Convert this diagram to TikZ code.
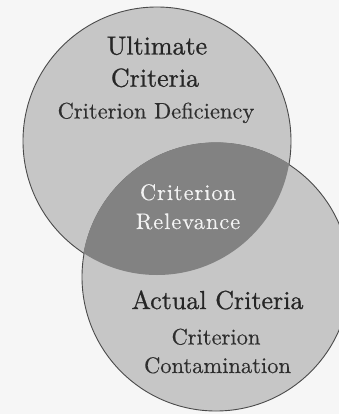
\documentclass[tikz,border=0pt]{standalone}
\usepackage{fontspec}
\newfontfamily\lmbody{lmroman10-regular.otf}[FakeBold=0.3]
\newfontfamily\lmhead{lmroman10-regular.otf}[FakeBold=0.8]
\newfontfamily\lmlens{lmroman10-regular.otf}[LetterSpace=4,FakeBold=0.3]
\begin{document}
\begin{tikzpicture}[x=1pt,y=-1pt,
  bg/.style={fill=bgcol},
  circ/.style={fill=circcol,draw=edgecol,line width=0.9pt},
  lens/.style={fill=lenscol},
  head/.style={anchor=base,inner sep=0pt,text=headcol,font=\lmhead\fontsize{26}{30}\selectfont},
  body/.style={anchor=base,inner sep=0pt,text=bodycol,font=\lmbody\fontsize{22.5}{26}\selectfont},
  lenstext/.style={anchor=base,inner sep=0pt,text=lenstextcol,font=\lmlens\fontsize{22.5}{26}\selectfont}]
\definecolor{bgcol}{HTML}{F6F6F6}
\definecolor{circcol}{HTML}{C6C6C6}
\definecolor{lenscol}{HTML}{828282}
\definecolor{edgecol}{HTML}{4A4A4A}
\definecolor{headcol}{HTML}{262626}
\definecolor{bodycol}{HTML}{2E2E2E}
\definecolor{lenstextcol}{HTML}{F2F2F2}
\useasboundingbox (0,0) rectangle (339,414);
\fill[bg] (0,0) rectangle (339,414);
\begin{scope}
\clip (0,0) rectangle (339,414);
\coordinate (cu) at (157,141);
\coordinate (cl) at (216,277);
\path[circ] (cu) circle[radius=134pt];
\path[circ] (cl) circle[radius=134pt];
\begin{scope}
\clip (cu) circle[radius=134pt];
\path[lens] (cl) circle[radius=134pt];
\draw[lenscol,line width=1.2pt] (cl) circle[radius=134pt];
\end{scope}
\end{scope}
\node[head] (u1) at (157,54.5) {Ultimate};
\node[head] (u2) at (155,86.7) {Criteria};
\node[body] (u3) at (156,118.5) {Criterion Deficiency};
\node[lenstext] (r1) at (188,200) {Criterion};
\node[lenstext] (r2) at (188,229) {Relevance};
\node[head] (a1) at (217.5,309) {Actual Criteria};
\node[body] (a2) at (216,344.5) {Criterion};
\node[body] (a3) at (217.5,373) {Contamination};
\end{tikzpicture}
\end{document}
